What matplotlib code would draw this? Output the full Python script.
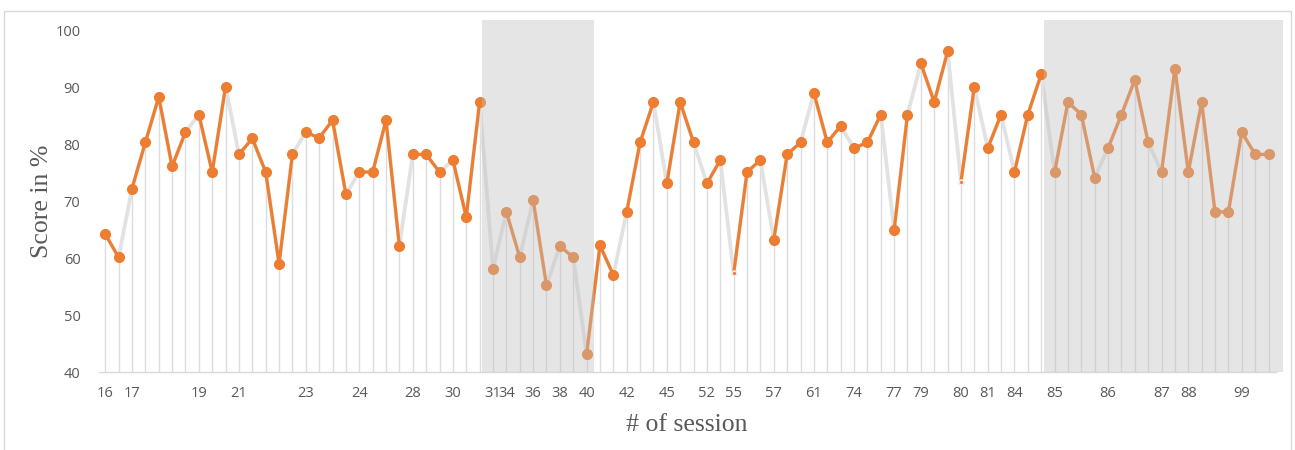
import numpy as np
import matplotlib
matplotlib.use("Agg")
import matplotlib.pyplot as plt
from matplotlib.patches import Rectangle

# scores per sitting
scores = [64.3, 60.2, 72.3, 80.4, 88.4, 76.2, 82.2, 85.3, 75.2, 90.2,
          78.3, 81.1, 75.2, 59.1, 78.3, 82.2, 81.2, 84.3, 71.3, 75.2,
          75.2, 84.3, 62.2, 78.3, 78.3, 75.2, 77.3, 67.3, 87.5, 58.2,
          68.2, 60.2, 70.3, 55.3, 62.2, 60.2, 43.2, 62.3, 57.1, 68.2,
          80.4, 87.5, 73.2, 87.5, 80.4, 73.2, 77.3, 57.4, 75.2, 77.3,
          63.3, 78.3, 80.4, 89.1, 80.4, 83.3, 79.4, 80.4, 85.3, 65.0,
          85.3, 94.3, 87.5, 96.4, 73.5, 90.2, 79.4, 85.3, 75.2, 85.3,
          92.4, 75.2, 87.5, 85.3, 74.2, 79.4, 85.3, 91.4, 80.4, 75.2,
          93.4, 75.2, 87.5, 68.2, 68.2, 82.2, 78.3, 78.3]

# session labels shown on the category axis
tick_pos = [0, 2, 7, 10, 15, 19, 23, 26, 29, 30, 32, 34, 36, 39, 42,
            45, 47, 50, 53, 56, 59, 61, 64, 66, 68, 71, 75, 79, 81, 85]
tick_labels = ["16", "17", "19", "21", "23", "24", "28", "30", "31", "34",
               "36", "38", "40", "42", "45", "52", "55", "57", "61", "74",
               "77", "79", "80", "81", "84", "85", "86", "87", "88", "99"]

# segment i -> i+1 is not part of the orange line at these points
breaks = [1, 6, 9, 14, 18, 22, 25, 28, 29, 31, 33, 35, 38, 41, 44, 46,
          49, 52, 55, 58, 60, 63, 65, 67, 70, 74, 78]
small_marks = [47, 64]
shaded = [(28.2, 36.55), (70.2, 88.06)]

orange = "#ED7D31"
x = np.arange(len(scores))
y = np.array(scores)

fig = plt.figure(figsize=(12.95, 4.5), dpi=100)
ax = fig.add_axes([0.0761, 0.1727, 0.9148, 0.7829])

ax.vlines(x, 40, y, color="#DCDCDC", lw=1.0, zorder=1)
ax.plot(x, y, color="#E2E2E2", lw=2.7, zorder=2, solid_capstyle="round")

starts = [0] + [b + 1 for b in breaks]
ends = breaks + [len(scores) - 1]
for s, e in zip(starts, ends):
    if e > s:
        ax.plot(x[s:e + 1], y[s:e + 1], color=orange, lw=2.3, zorder=3,
                solid_joinstyle="round")

big = [i for i in x if i not in small_marks]
ax.plot(x[big], y[big], "o", color=orange, ms=7, zorder=4)
ax.plot(x[small_marks], y[small_marks], "o", color=orange, ms=3.5,
        mec="#EDEDED", mew=1.2, zorder=4)

ax.plot([-0.45, 87.57], [40, 40], color="#D9D9D9", lw=1.0, zorder=1,
        clip_on=False)

for a, b in shaded:
    ax.axvspan(a, b, color="#BFBFBF", alpha=0.4, lw=0, zorder=10)

ax.set_xlim(-0.5, 88.1)
ax.set_ylim(40, 101.93)
ax.set_yticks(range(40, 101, 10))
ax.set_xticks(tick_pos, labels=tick_labels)
for lab in ax.get_xticklabels() + ax.get_yticklabels():
    lab.set_fontfamily("Open Sans")
    lab.set_fontsize(10.5)
    lab.set_color("#595959")
ax.tick_params(axis="both", length=0)
ax.tick_params(axis="x", pad=10)
ax.tick_params(axis="y", pad=13)
for sp in ax.spines.values():
    sp.set_visible(False)
ax.set_facecolor("none")

fig.text(41.7 / 1295, 1 - 201.7 / 450, "Score in %", rotation=90,
         ha="center", va="center", fontsize=18.5, family="Liberation Serif",
         color="#595959")
fig.text(686.5 / 1295, 1 - 425 / 450, "# of session", ha="center",
         va="center", fontsize=18.5, family="Liberation Serif", color="#595959")

fig.patches.append(Rectangle((3.5 / 1295, -0.1), 1287 / 1295, 1.1 - 11 / 450,
                             transform=fig.transFigure, fill=False,
                             edgecolor="#D9D9D9", lw=1.0))

fig.savefig("out.png", dpi=100)
